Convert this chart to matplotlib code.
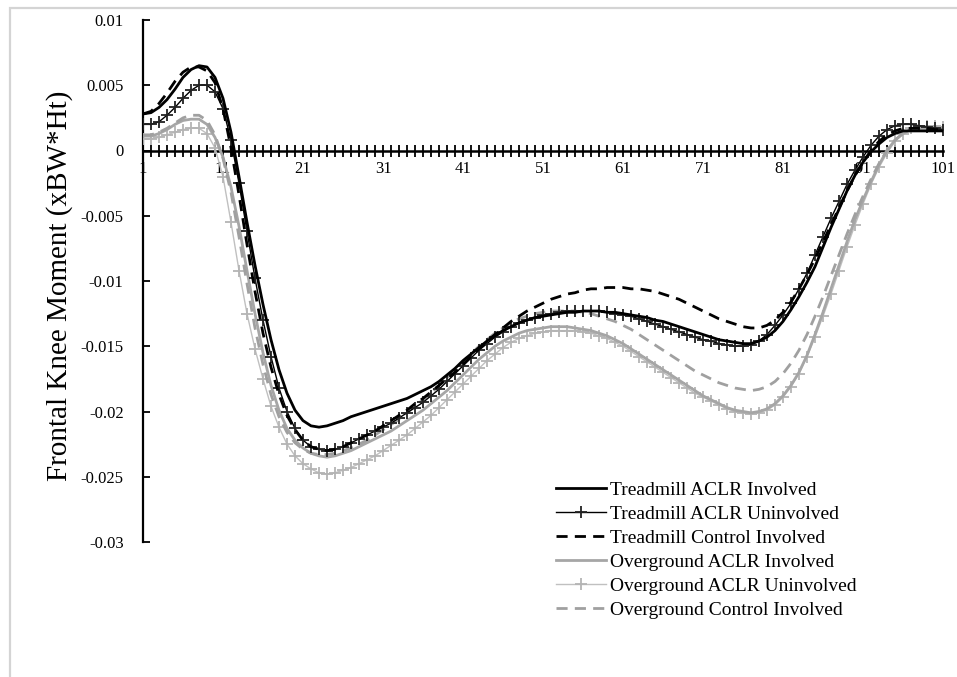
import matplotlib
matplotlib.use("Agg")
import matplotlib.pyplot as plt
from matplotlib.patches import Rectangle
from matplotlib.ticker import FixedLocator

plt.rcParams['font.family'] = ['Liberation Serif', 'DejaVu Serif']

# ---------------- data ----------------
frames = list(range(1, 102))

treadmill_aclr_involved = [
    0.0028, 0.0029, 0.0033, 0.0039, 0.0047, 0.0056, 0.0062, 0.0065, 0.0064, 0.0056,
    0.0040, 0.0014, -0.0020, -0.0055, -0.0088, -0.0118, -0.0145, -0.0168, -0.0186, -0.0199,
    -0.0207, -0.0211, -0.0212, -0.0211, -0.0209, -0.0207, -0.0204, -0.0202, -0.0200, -0.0198,
    -0.0196, -0.0194, -0.0192, -0.0190, -0.0187, -0.0184, -0.0181, -0.0177, -0.0172, -0.0167,
    -0.0161, -0.0156, -0.0151, -0.0146, -0.0142, -0.0138, -0.0135, -0.0132, -0.0130, -0.0128,
    -0.0127, -0.0126, -0.0125, -0.0124, -0.0124, -0.0123, -0.0123, -0.0123, -0.0124, -0.0124,
    -0.0125, -0.0126, -0.0127, -0.0128, -0.0130, -0.0131, -0.0133, -0.0135, -0.0137, -0.0139,
    -0.0141, -0.0143, -0.0145, -0.0146, -0.0147, -0.0148, -0.0148, -0.0146, -0.0143, -0.0138,
    -0.0131, -0.0122, -0.0112, -0.0101, -0.0089, -0.0074, -0.0059, -0.0045, -0.0031, -0.0019,
    -0.0009, -0.0001, 0.0005, 0.0010, 0.0013, 0.0015, 0.0015, 0.0015, 0.0015, 0.0015,
    0.0015]

treadmill_aclr_uninvolved = [
    0.0020, 0.0020, 0.0022, 0.0027, 0.0033, 0.0040, 0.0046, 0.0050, 0.0050, 0.0045,
    0.0032, 0.0008, -0.0025, -0.0062, -0.0098, -0.0130, -0.0158, -0.0182, -0.0200, -0.0213,
    -0.0222, -0.0227, -0.0229, -0.0230, -0.0229, -0.0227, -0.0224, -0.0221, -0.0218, -0.0215,
    -0.0212, -0.0209, -0.0205, -0.0201, -0.0197, -0.0193, -0.0188, -0.0183, -0.0177, -0.0171,
    -0.0165, -0.0159, -0.0153, -0.0148, -0.0143, -0.0139, -0.0135, -0.0132, -0.0130, -0.0128,
    -0.0126, -0.0125, -0.0124, -0.0123, -0.0123, -0.0123, -0.0123, -0.0123, -0.0124, -0.0125,
    -0.0126, -0.0127, -0.0129, -0.0131, -0.0133, -0.0135, -0.0137, -0.0139, -0.0141, -0.0143,
    -0.0145, -0.0146, -0.0148, -0.0149, -0.0150, -0.0150, -0.0149, -0.0146, -0.0141, -0.0134,
    -0.0126, -0.0117, -0.0106, -0.0094, -0.0080, -0.0066, -0.0052, -0.0039, -0.0026, -0.0015,
    -0.0005, 0.0004, 0.0011, 0.0016, 0.0019, 0.0020, 0.0020, 0.0019, 0.0018, 0.0017,
    0.0016]

treadmill_control_involved = [
    0.0028, 0.0030, 0.0036, 0.0044, 0.0053, 0.0060, 0.0064, 0.0064, 0.0061, 0.0052,
    0.0032, 0.0002, -0.0034, -0.0072, -0.0108, -0.0140, -0.0166, -0.0187, -0.0203, -0.0214,
    -0.0222, -0.0227, -0.0229, -0.0230, -0.0229, -0.0227, -0.0224, -0.0221, -0.0218, -0.0215,
    -0.0211, -0.0207, -0.0203, -0.0199, -0.0194, -0.0190, -0.0185, -0.0180, -0.0175, -0.0170,
    -0.0164, -0.0158, -0.0152, -0.0146, -0.0141, -0.0136, -0.0131, -0.0127, -0.0123, -0.0120,
    -0.0117, -0.0114, -0.0112, -0.0110, -0.0109, -0.0107, -0.0106, -0.0106, -0.0105, -0.0105,
    -0.0105, -0.0106, -0.0106, -0.0107, -0.0108, -0.0110, -0.0112, -0.0114, -0.0117, -0.0120,
    -0.0123, -0.0126, -0.0129, -0.0131, -0.0133, -0.0135, -0.0136, -0.0136, -0.0134, -0.0130,
    -0.0124, -0.0116, -0.0106, -0.0095, -0.0083, -0.0070, -0.0057, -0.0044, -0.0031, -0.0019,
    -0.0009, 0.0000, 0.0007, 0.0012, 0.0015, 0.0017, 0.0017, 0.0017, 0.0017, 0.0016,
    0.0016]

overground_aclr_involved = [
    0.0011, 0.0011, 0.0013, 0.0016, 0.0020, 0.0023, 0.0024, 0.0024, 0.0020, 0.0010,
    -0.0005, -0.0028, -0.0058, -0.0092, -0.0125, -0.0155, -0.0180, -0.0199, -0.0213, -0.0222,
    -0.0228, -0.0232, -0.0234, -0.0235, -0.0234, -0.0232, -0.0230, -0.0227, -0.0224, -0.0221,
    -0.0218, -0.0215, -0.0211, -0.0207, -0.0203, -0.0199, -0.0194, -0.0189, -0.0184, -0.0178,
    -0.0172, -0.0166, -0.0160, -0.0155, -0.0150, -0.0146, -0.0143, -0.0140, -0.0138, -0.0137,
    -0.0136, -0.0135, -0.0135, -0.0135, -0.0136, -0.0137, -0.0138, -0.0140, -0.0142, -0.0145,
    -0.0148, -0.0152, -0.0156, -0.0160, -0.0164, -0.0168, -0.0172, -0.0176, -0.0180, -0.0184,
    -0.0188, -0.0191, -0.0194, -0.0197, -0.0199, -0.0200, -0.0201, -0.0200, -0.0198, -0.0194,
    -0.0188, -0.0180, -0.0170, -0.0157, -0.0141, -0.0124, -0.0106, -0.0088, -0.0070, -0.0053,
    -0.0038, -0.0024, -0.0011, 0.0000, 0.0008, 0.0013, 0.0016, 0.0017, 0.0017, 0.0017,
    0.0017]

overground_aclr_uninvolved = [
    0.0009, 0.0009, 0.0010, 0.0012, 0.0014, 0.0016, 0.0017, 0.0017, 0.0013, 0.0002,
    -0.0020, -0.0055, -0.0092, -0.0125, -0.0152, -0.0175, -0.0196, -0.0212, -0.0225, -0.0234,
    -0.0240, -0.0244, -0.0247, -0.0248, -0.0247, -0.0245, -0.0243, -0.0240, -0.0237, -0.0234,
    -0.0230, -0.0226, -0.0222, -0.0218, -0.0213, -0.0208, -0.0203, -0.0197, -0.0191, -0.0185,
    -0.0179, -0.0173, -0.0167, -0.0161, -0.0156, -0.0151, -0.0147, -0.0144, -0.0142, -0.0140,
    -0.0139, -0.0138, -0.0138, -0.0138, -0.0138, -0.0139, -0.0140, -0.0142, -0.0144, -0.0147,
    -0.0150, -0.0154, -0.0158, -0.0162, -0.0166, -0.0170, -0.0174, -0.0178, -0.0182, -0.0186,
    -0.0189, -0.0192, -0.0195, -0.0198, -0.0200, -0.0201, -0.0202, -0.0201, -0.0199, -0.0195,
    -0.0189, -0.0181, -0.0171, -0.0158, -0.0143, -0.0127, -0.0110, -0.0092, -0.0074, -0.0057,
    -0.0041, -0.0026, -0.0013, -0.0002, 0.0007, 0.0013, 0.0017, 0.0019, 0.0019, 0.0019,
    0.0018]

overground_control_involved = [
    0.0012, 0.0012, 0.0014, 0.0017, 0.0021, 0.0025, 0.0027, 0.0027, 0.0023, 0.0012,
    -0.0006, -0.0032, -0.0066, -0.0102, -0.0136, -0.0164, -0.0187, -0.0204, -0.0216, -0.0224,
    -0.0229, -0.0232, -0.0233, -0.0233, -0.0232, -0.0230, -0.0228, -0.0225, -0.0222, -0.0218,
    -0.0214, -0.0210, -0.0206, -0.0201, -0.0196, -0.0191, -0.0186, -0.0180, -0.0174, -0.0168,
    -0.0162, -0.0156, -0.0150, -0.0145, -0.0140, -0.0136, -0.0132, -0.0129, -0.0127, -0.0125,
    -0.0124, -0.0123, -0.0123, -0.0123, -0.0123, -0.0124, -0.0125, -0.0127, -0.0129, -0.0131,
    -0.0134, -0.0137, -0.0141, -0.0145, -0.0149, -0.0153, -0.0157, -0.0161, -0.0165, -0.0169,
    -0.0172, -0.0175, -0.0178, -0.0180, -0.0182, -0.0183, -0.0184, -0.0183, -0.0181, -0.0177,
    -0.0171, -0.0163, -0.0153, -0.0141, -0.0127, -0.0112, -0.0096, -0.0080, -0.0064, -0.0049,
    -0.0035, -0.0022, -0.0010, 0.0000, 0.0008, 0.0013, 0.0016, 0.0018, 0.0018, 0.0018,
    0.0018]

series_labels = ["Treadmill ACLR Involved", "Treadmill ACLR Uninvolved",
                 "Treadmill Control Involved", "Overground ACLR Involved",
                 "Overground ACLR Uninvolved", "Overground Control Involved"]

x_tick_values = [1, 11, 21, 31, 41, 51, 61, 71, 81, 91, 101]
y_tick_values = [0.01, 0.005, 0, -0.005, -0.01, -0.015, -0.02, -0.025, -0.03]
y_tick_labels = ["0.01", "0.005", "0", "-0.005", "-0.01", "-0.015", "-0.02", "-0.025", "-0.03"]
y_label = "Frontal Knee Moment (xBW*Ht)"

# ---------------- figure ----------------
W, H = 957, 677
fig = plt.figure(figsize=(W / 100, H / 100), dpi=100)
fig.patch.set_facecolor("white")

# light outer frame
fig.patches.append(Rectangle((10 / W, -0.5), 2.0, 1.5 - 8 / H, transform=fig.transFigure,
                             fill=False, edgecolor="#d4d4d4", lw=1.6, zorder=0))

ax = fig.add_axes([143 / W, 1 - 542 / H, 800 / W, 522 / H])
ax.set_facecolor("none")

styles = [
    dict(color="black", lw=2.0, ls="-"),
    dict(color="black", lw=1.0, ls="-", marker="+", ms=8, mew=1.3, mec="#222222"),
    dict(color="black", lw=2.0, ls=(0, (4, 2.6))),
    dict(color="#a6a6a6", lw=2.0, ls="-"),
    dict(color="#c0c0c0", lw=1.0, ls="-", marker="+", ms=8, mew=1.3, mec="#b4b4b4"),
    dict(color="#a0a0a0", lw=2.0, ls=(0, (4, 2.6))),
]
data = [treadmill_aclr_involved, treadmill_aclr_uninvolved, treadmill_control_involved,
        overground_aclr_involved, overground_aclr_uninvolved, overground_control_involved]

order = [4, 3, 5, 1, 2, 0]
lines = {}
for k in order:
    ln, = ax.plot(frames, data[k], label=series_labels[k], zorder=3 + (k < 3), **styles[k])
    lines[k] = ln

ax.set_xlim(1, 101)
ax.set_ylim(-0.03, 0.01)

for s in ["top", "right"]:
    ax.spines[s].set_visible(False)
ax.spines["bottom"].set_position(("data", 0))
ax.spines["bottom"].set_linewidth(1.8)
ax.spines["left"].set_linewidth(1.6)
ax.spines["bottom"].set_zorder(2)

ax.xaxis.set_major_locator(FixedLocator(x_tick_values))
ax.xaxis.set_minor_locator(FixedLocator(frames))
ax.set_xticklabels([str(v) for v in x_tick_values])
ax.tick_params(axis="x", which="both", direction="inout", length=9, width=1.3,
               labelsize=12, pad=3, colors="black")

ax.set_yticks(y_tick_values)
ax.set_yticklabels(y_tick_labels)
ax.tick_params(axis="y", direction="in", length=5, width=1.3, labelsize=12, pad=14)

fig.text(60 / W, 1 - 286 / H, y_label, rotation=90, ha="center", va="center", fontsize=21)

handles = [lines[k] for k in range(6)]
leg = fig.legend(handles, series_labels, loc="upper left",
                 bbox_to_anchor=(556 / W, 1 - 481 / H), frameon=False, fontsize=14,
                 handlelength=2.55, handletextpad=0.25, labelspacing=0.33,
                 borderpad=0, borderaxespad=0, numpoints=1)

fig.savefig("out.png", dpi=100, facecolor="white")
